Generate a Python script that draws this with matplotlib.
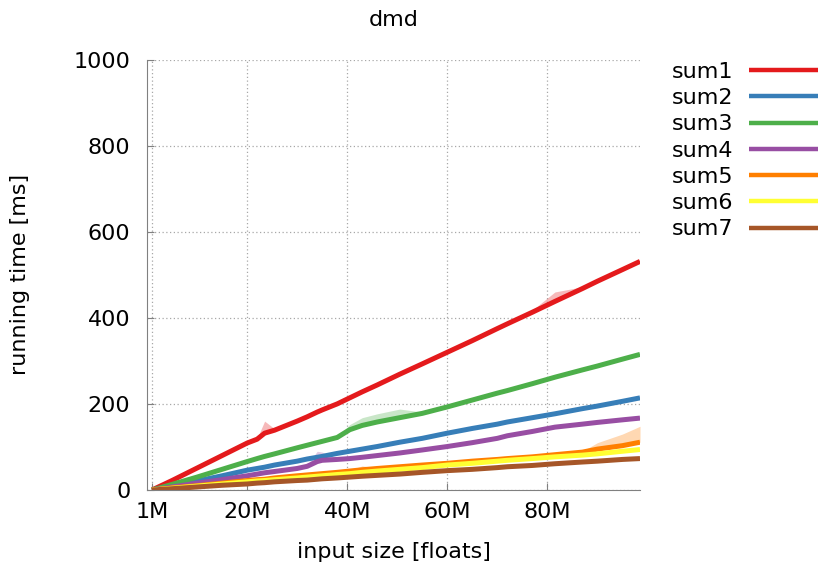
import matplotlib
matplotlib.use("Agg")
import matplotlib.pyplot as plt

# input size in millions of floats
sizes = [1, 5, 10, 15, 20, 22, 23.5, 25.5, 30, 32, 34, 35, 38, 40.5, 43, 46,
         50.5, 55, 60, 65, 70, 72, 77, 81.5, 87, 90, 95, 98.5]

names = ["sum1", "sum2", "sum3", "sum4", "sum5", "sum6", "sum7"]
colors = ["#e41a1c", "#377eb8", "#4daf4a", "#984ea3", "#ff7f00", "#ffff33", "#a65628"]

sum1 = [0, 22, 51, 80, 109, 118, 132, 139, 160, 170, 181, 186, 200, 214, 228, 244,
        269, 293, 320, 347, 375, 386, 413, 438, 468, 485, 512, 531]
sum1_hi = [0, 22, 51, 80, 109, 120, 160, 142, 160, 170, 181, 186, 200, 214, 228, 244,
           269, 293, 320, 347, 375, 386, 418, 460, 472, 486, 512, 531]

sum2 = [0, 9, 21, 33, 46, 50, 53, 58, 67, 72, 76, 78, 85, 90, 95, 101,
        111, 120, 132, 143, 153, 158, 168, 177, 189, 195, 206, 214]
sum2_hi = list(sum2)

sum3 = [0, 13, 30, 48, 66, 73, 78, 84, 98, 104, 110, 113, 122, 140, 150, 158,
        168, 178, 193, 209, 225, 231, 247, 262, 279, 288, 304, 315]
sum3_hi = [0, 13, 30, 48, 66, 73, 78, 84, 98, 104, 110, 113, 122, 152, 168, 177,
           188, 181, 193, 209, 225, 231, 247, 262, 279, 288, 304, 315]

sum4 = [0, 7, 16, 24, 33, 37, 40, 43, 50, 55, 66, 69, 71, 73, 76, 80,
        86, 93, 101, 110, 120, 126, 136, 146, 153, 157, 163, 167]
sum4_hi = [0, 7, 16, 24, 33, 37, 40, 43, 50, 58, 90, 88, 74, 73, 76, 80,
           86, 93, 101, 110, 120, 127, 141, 151, 156, 158, 163, 167]

sum5 = [0, 5, 10, 16, 22, 24, 25, 28, 33, 35, 37, 38, 41, 44, 47, 50,
        54, 58, 62, 67, 71, 73, 77, 82, 88, 95, 103, 111]
sum5_hi = [0, 6, 12, 17, 23, 25, 27, 31, 36, 37, 38, 39, 42, 46, 56, 51,
           55, 59, 63, 68, 72, 74, 78, 83, 90, 110, 130, 148]

sum6 = [0, 4, 9, 14, 19, 21, 22, 24, 28, 30, 32, 33, 36, 38, 41, 44,
        48, 52, 58, 62, 67, 69, 73, 77, 81, 84, 90, 94]
sum6_hi = list(sum6)

sum7 = [0, 3, 7, 11, 14, 16, 17, 19, 22, 23, 25, 26, 28, 30, 32, 34,
        37, 41, 45, 48, 52, 54, 57, 61, 65, 67, 71, 73]
sum7_hi = list(sum7)

series = [sum1, sum2, sum3, sum4, sum5, sum6, sum7]
series_hi = [sum1_hi, sum2_hi, sum3_hi, sum4_hi, sum5_hi, sum6_hi, sum7_hi]

xticks = [1, 20, 40, 60, 80]
xticklabels = ["1M", "20M", "40M", "60M", "80M"]
yticks = [0, 200, 400, 600, 800, 1000]

plt.rcParams["font.family"] = ["DejaVu Sans"]
FS = 16

fig = plt.figure(figsize=(8.18, 5.69), dpi=100)
ax = fig.add_axes([147 / 818, 1 - 490 / 569, (640 - 147) / 818, (490 - 59.5) / 569])

for s, hi, c in zip(series, series_hi, colors):
    ax.fill_between(sizes, s, hi, color=c, alpha=0.3, linewidth=0)
for s, c, n in zip(series, colors, names):
    ax.plot(sizes, s, color=c, linewidth=3.6, label=n, solid_capstyle="butt")

ax.set_xlim(0, 98.5)
ax.set_ylim(0, 1000)
ax.set_xticks(xticks)
ax.set_xticklabels(xticklabels)
ax.set_yticks(yticks)
ax.grid(True, linestyle=(0, (1, 2)), color="#a8a8a8", linewidth=0.9)
ax.set_axisbelow(True)
for side in ["top", "right"]:
    ax.spines[side].set_visible(False)
for side in ["left", "bottom"]:
    ax.spines[side].set_color("#808080")
ax.tick_params(direction="in", length=5, color="#808080", labelsize=FS)
ax.tick_params(axis="x", pad=9)
ax.tick_params(axis="y", pad=12)

ax.set_xlabel("input size [floats]", fontsize=FS, labelpad=14)
ax.set_ylabel("running time [ms]", fontsize=FS, labelpad=31)
ax.set_title("dmd", fontsize=FS, pad=24)

leg = ax.legend(loc="upper right", bbox_to_anchor=(1.0, 1 - 62 / 569),
                bbox_transform=fig.transFigure, frameon=False, markerfirst=False,
                fontsize=FS, handlelength=3.1, handletextpad=0.72,
                borderpad=0, borderaxespad=0, labelspacing=0.28)
for line in leg.get_lines():
    line.set_linewidth(3.2)

fig.savefig("out.png", dpi=100)
